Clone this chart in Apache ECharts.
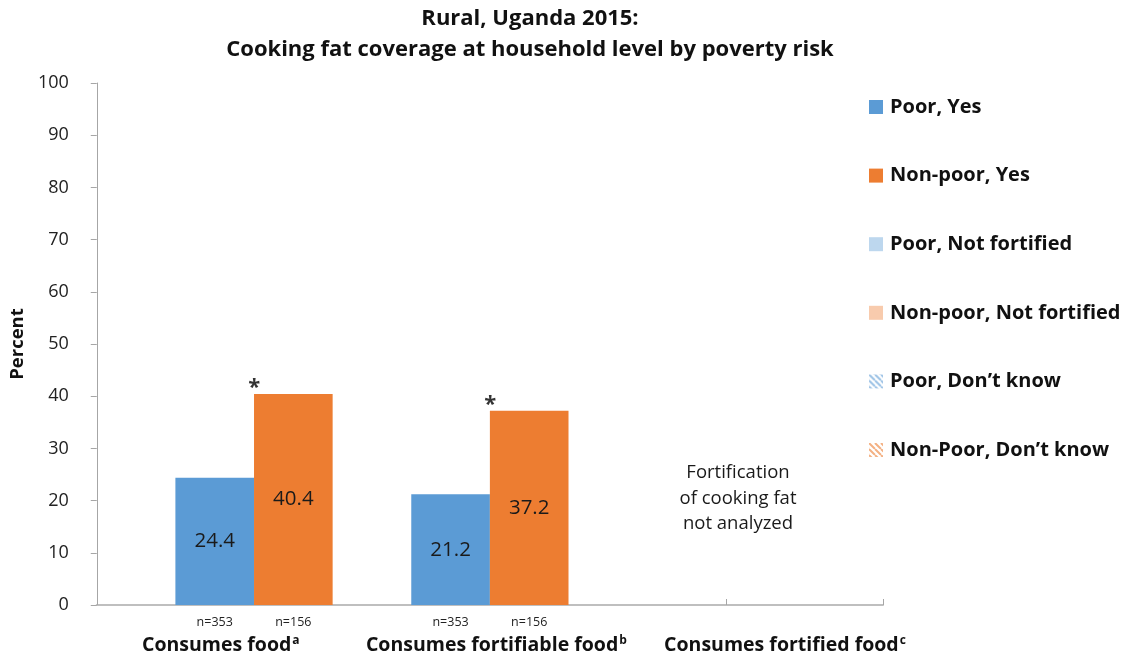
<!DOCTYPE html>
<html>
<head>
<meta charset="utf-8">
<script src="https://cdn.jsdelivr.net/npm/echarts@6/dist/echarts.min.js"></script>
<style>
  html, body { margin: 0; padding: 0; background: #fff; }
  #chart { width: 1127px; height: 661px; }
</style>
</head>
<body>
<div id="chart"></div>
<script>
// groups on the axis
var groups = ['Consumes food', 'Consumes fortifiable food', 'Consumes fortified food'];
var groupSup = ['a', 'b', 'c'];
// values in percent, null = no bar
var poorYes = [24.4, 21.2, null];
var nonPoorYes = [40.4, 37.2, null];
var poorNotFortified = [null, null, null];
var nonPoorNotFortified = [null, null, null];
var poorDontKnow = [null, null, null];
var nonPoorDontKnow = [null, null, null];
var nPoor = [353, 353, null];
var nNonPoor = [156, 156, null];
var significant = [true, true, false];
var yTicks = [0, 10, 20, 30, 40, 50, 60, 70, 80, 90, 100];

// each group gets two slots (poor, non-poor) on a 10 slot axis
var slotPoor = [1, 4, 7];
var slotNonPoor = [2, 5, 8];
var nSlots = 10;

function toSlots(arr, slots) {
  var out = [];
  for (var i = 0; i < nSlots; i++) out.push('-');
  arr.forEach(function (v, i) { if (v != null) out[slots[i]] = v; });
  return out;
}

var slotLabels = [];
for (var i = 0; i < nSlots; i++) slotLabels.push('');
nPoor.forEach(function (v, i) { if (v != null) slotLabels[slotPoor[i]] = 'n=' + v; });
nNonPoor.forEach(function (v, i) { if (v != null) slotLabels[slotNonPoor[i]] = 'n=' + v; });

var starData = toSlots(nonPoorYes.map(function (v, i) { return significant[i] ? v : null; }), slotNonPoor);

function stripes(color) {
  var c = document.createElement('canvas');
  c.width = 6; c.height = 6;
  var g = c.getContext('2d');
  g.fillStyle = '#fff';
  g.fillRect(0, 0, 6, 6);
  g.strokeStyle = color;
  g.lineWidth = 2;
  g.beginPath();
  for (var x = -6; x <= 6; x += 6) {
    g.moveTo(x, 0);
    g.lineTo(x + 6, 6);
  }
  g.stroke();
  return { image: c, repeat: 'repeat' };
}

var font = 'Open Sans';
var names = ['Poor, Yes', 'Non-poor, Yes', 'Poor, Not fortified', 'Non-poor, Not fortified',
  'Poor, Don\u2019t know', 'Non-Poor, Don\u2019t know'];

function barSeries(name, data, slots, color) {
  return {
    name: name,
    type: 'bar',
    stack: 'all',
    barCategoryGap: '0%',
    data: toSlots(data, slots),
    itemStyle: { color: color },
    label: {
      show: true,
      position: 'inside',
      fontFamily: font,
      fontSize: 20.5,
      color: '#1a1a1a'
    }
  };
}

var groupText = { fontFamily: font, fontSize: 19.5, fontWeight: 'bold', color: '#111' };
var supText = { fontFamily: font, fontSize: 12, fontWeight: 'bold', color: '#111' };

var chart = echarts.init(document.getElementById('chart'));
var option = {
  animation: false,
  backgroundColor: '#fff',
  title: {
    text: 'Rural, Uganda 2015:\nCooking fat coverage at household level by poverty risk',
    left: 525,
    textAlign: 'center',
    top: -2,
    textStyle: { fontFamily: font, fontSize: 22, fontWeight: 'bold', color: '#111', lineHeight: 31 }
  },
  legend: {
    orient: 'vertical',
    left: 864,
    top: 92,
    itemWidth: 14,
    itemHeight: 14,
    itemGap: 48.6,
    icon: 'rect',
    data: names,
    selectedMode: false,
    textStyle: { fontFamily: font, fontSize: 20, fontWeight: 'bold', color: '#111', padding: [0, 0, 0, 2] }
  },
  grid: { left: 96, right: 244, top: 83, bottom: 56 },
  xAxis: [{
    type: 'category',
    data: slotLabels,
    axisLine: { lineStyle: { color: '#bfbfbf', width: 2 } },
    axisTick: {
      show: true, inside: true, length: 6,
      lineStyle: { color: '#a6a6a6' },
      interval: function (i) { return i === 0 || i === 8; }
    },
    axisLabel: { interval: 0, margin: 11, fontFamily: font, fontSize: 12.5, color: '#222' }
  }, {
    type: 'category',
    data: groups,
    position: 'bottom',
    axisLine: { show: false },
    axisTick: { show: false },
    axisLabel: {
      interval: 0,
      margin: 30,
      hideOverlap: false,
      formatter: function (v, i) { return '{t' + i + '|' + v + '}{s' + i + '|' + groupSup[i] + '}'; },
      rich: {
        t0: groupText,
        t1: Object.assign({ padding: [0, 0, 0, 13] }, groupText),
        t2: Object.assign({ padding: [0, 0, 0, 66] }, groupText),
        s0: Object.assign({ padding: [0, 14, 9, 1] }, supText),
        s1: Object.assign({ padding: [0, 0, 9, 1] }, supText),
        s2: Object.assign({ padding: [0, 0, 9, 1] }, supText)
      }
    }
  }],
  yAxis: {
    type: 'value',
    min: 0,
    max: 100,
    interval: 10,
    name: 'Percent',
    nameLocation: 'middle',
    nameGap: 68,
    nameTextStyle: { fontFamily: font, fontSize: 18.5, fontWeight: 'bold', color: '#111' },
    axisLine: { show: true, lineStyle: { color: '#a6a6a6' } },
    axisTick: { show: true, length: 6, lineStyle: { color: '#a6a6a6' } },
    splitLine: { show: false },
    axisLabel: {
      margin: 28,
      fontFamily: font,
      fontSize: 18,
      color: '#222',
      formatter: function (v) { return yTicks.indexOf(v) >= 0 ? String(v) : ''; }
    }
  },
  graphic: [{
    type: 'text',
    style: {
      x: 738, y: 460,
      text: 'Fortification\nof cooking fat\nnot analyzed',
      align: 'center',
      fontFamily: font,
      fontSize: 18.5,
      lineHeight: 25.5,
      fill: '#1a1a1a'
    }
  }],
  series: [
    barSeries(names[0], poorYes, slotPoor, '#5B9BD5'),
    barSeries(names[1], nonPoorYes, slotNonPoor, '#ED7D31'),
    barSeries(names[2], poorNotFortified, slotPoor, '#BDD7EE'),
    barSeries(names[3], nonPoorNotFortified, slotNonPoor, '#F8CBAD'),
    barSeries(names[4], poorDontKnow, slotPoor, stripes('#9DC3E6')),
    barSeries(names[5], nonPoorDontKnow, slotNonPoor, stripes('#F4B183')),
    {
      name: 'sig',
      type: 'scatter',
      data: starData,
      symbolSize: 0,
      silent: true,
      label: {
        show: true,
        position: 'top',
        distance: 0,
        offset: [-39, 5],
        formatter: '*',
        fontFamily: font,
        fontSize: 22,
        fontWeight: 'bold',
        color: '#000'
      }
    }
  ]
};
chart.setOption(option);
</script>
</body>
</html>
